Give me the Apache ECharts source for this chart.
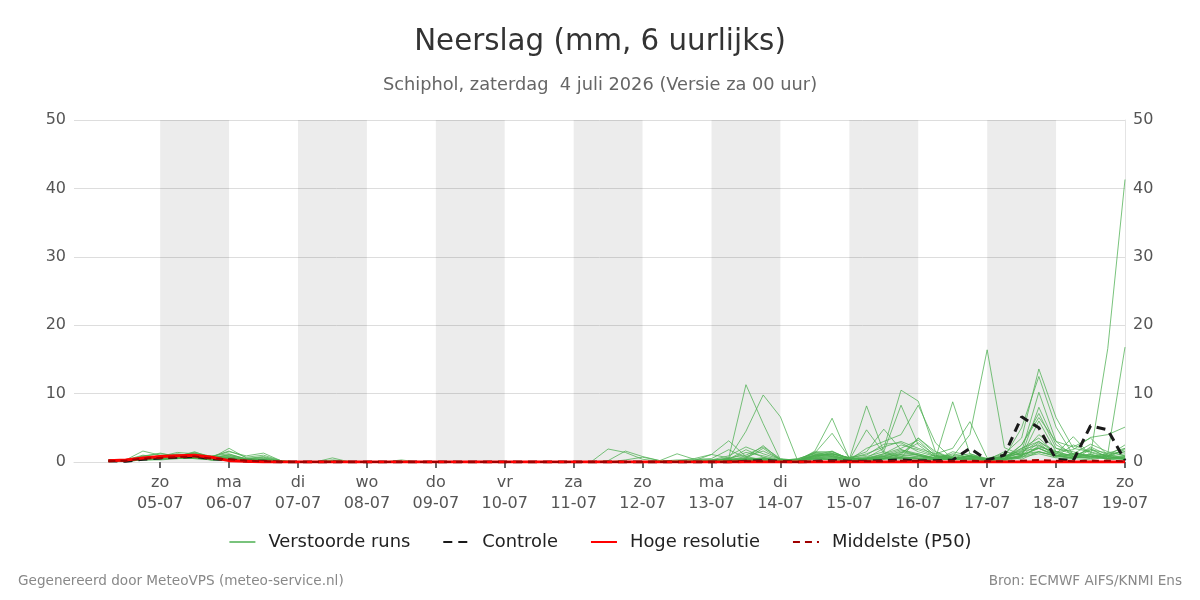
<!DOCTYPE html>
<html><head><meta charset="utf-8">
<script src="https://cdn.jsdelivr.net/npm/echarts@6/dist/echarts.min.js"></script>
<style>html,body{margin:0;padding:0;background:#fff}#c{width:1200px;height:600px}</style>
</head><body><div id="c"></div>
<script>
// Day tick labels (day boundaries, 00 uur)
const dayNames = ['zo','ma','di','wo','do','vr','za','zo','ma','di','wo','do','vr','za','zo'];
const dayDates = ['05-07','06-07','07-07','08-07','09-07','10-07','11-07','12-07','13-07','14-07','15-07','16-07','17-07','18-07','19-07'];
// shaded days (index into dayDates; shading runs to next day)
const shadedDays = [0,2,4,6,8,10,12];
const yTicks = [0,10,20,30,40,50];

// 6-hourly precipitation (mm), first value = 04-07 06 uur, last = 19-07 00 uur
const ens01 = [0.2,0.3,1.6, 1.0,0.6,0.9,0.5, 0.3,0.2,0.1,0, 0,0,0.2,0, 0,0,0,0, 0,0,0,0, 0,0,0,0, 0,0,0,0, 0,0,0,0.1, 0.2,0.6,11.3,5.6, 0.3,0.2,0.8,1.2, 0.6,0.4,1.2,2.5, 1.8,0.9,0.5,0.4, 0.3,0.8,0.4,1.5, 0.9,0.6,1.1,0.5, 0.8];
const ens02 = [0.1,0.2,0.8, 1.3,0.8,1.5,0.6, 2.0,0.6,0.3,0.1, 0,0,0.6,0, 0,0,0,0, 0,0,0,0, 0,0,0,0, 0,0,0,0, 0,0,0,0.2, 0.3,0.5,4.5,9.8, 6.6,0.2,0.6,1.5, 0.5,0.3,0.8,1.1, 0.8,0.5,1.2,0.7, 0.4,0.3,0.9,2.2, 1.5,0.8,0.6,1.0, 1.5];
const ens03 = [0.3,0.2,0.5, 0.8,1.4,1.2,0.8, 1.5,0.9,1.3,0.2, 0,0,0.3,0.1, 0,0,0.3,0, 0,0,0,0, 0,0,0,0, 0,0,1.9,1.4, 0.4,0.1,0.3,0.2, 1.1,3.1,0.8,0.3, 0.2,0.1,1.5,1.5, 0.5,1.2,2.2,3.0, 2.0,1.2,0.6,0.8, 0.3,0.5,2.0,3.5, 1.2,0.8,2.0,0.6, 0.4];
const ens04 = [0.2,0.1,0.6, 0.9,1.0,1.1,0.9, 1.2,0.4,0.6,0.1, 0,0,0.2,0, 0,0,0.1,0, 0,0,0,0, 0,0,0,0, 0,0,0.2,1.6, 0.8,0.2,0.1,0.4, 0.3,0.9,2.2,1.2, 0.4,0.2,1.6,6.4, 0.5,0.6,1.0,1.8, 1.0,0.3,0.8,1.2, 0.5,0.9,1.2,4.0, 2.0,1.1,0.7,0.9, 2.5];
const ens05 = [0.1,0.3,1.0, 0.7,1.2,0.8,0.4, 0.6,0.3,0.2,0, 0,0,0,0, 0,0,0,0, 0,0,0,0, 0,0,0,0, 0,0,0,0.3, 0.7,0.2,1.2,0.4, 0.5,1.8,0.6,2.4, 0.3,0.1,1.3,4.2, 0.6,0.2,0.5,1.3, 2.8,1.0,0.4,0.6, 0.2,0.6,1.8,2.5, 1.0,0.5,0.3,0.8, 1.2];
const ens06 = [0.2,0.2,0.4, 0.6,0.9,1.3,0.7, 0.9,0.5,0.8,0.2, 0,0,0,0, 0,0,0,0, 0,0,0,0, 0,0,0,0, 0,0,0,0, 0,0,0.2,0.5, 1.1,0.6,1.0,2.2, 0.5,0.2,1.0,1.6, 0.4,8.2,1.5,0.8, 0.6,0.3,1.5,0.9, 0.3,0.4,1.0,8.0, 2.5,1.2,0.9,0.4, 0.6];
const ens07 = [0.1,0.2,0.5, 0.5,0.7,0.6,0.4, 0.5,0.2,0.2,0, 0,0,0,0, 0,0,0,0, 0,0,0,0, 0,0,0,0, 0,0,0,0, 0.1,0,0,0.1, 0.3,0.4,0.3,0.6, 0.2,0.5,1.2,1.0, 0.3,4.7,1.3,0.6, 3.5,1.5,0.3,0.5, 0.2,0.5,1.5,10.2, 3.0,0.8,0.6,0.5, 1.0];
const ens08 = [0,0.1,0.3, 0.4,0.6,0.8,0.3, 0.3,0.1,0,0, 0,0,0,0, 0,0,0,0, 0,0,0,0, 0,0,0,0, 0,0,0,0, 0,0,0,0, 0,0.2,0.4,0.3, 0.1,0.3,0.9,1.2, 0.6,1.5,4.8,1.8, 1.2,0.6,0.4,1.0, 0.5,1.2,3.5,13.6, 6.5,2.0,1.5,0.8, 0.5];
const ens09 = [0.2,0.1,0.4, 0.7,0.5,0.9,0.6, 0.7,0.4,0.3,0.1, 0,0,0,0, 0,0,0,0, 0,0,0,0, 0,0,0,0, 0,0,0,0, 0,0,0,0, 0.2,0.5,0.3,0.4, 0.1,0.2,1.0,0.8, 0.2,0.6,2.0,10.5, 8.9,1.5,0.6,0.8, 0.4,0.9,1.6,2.0, 1.0,0.6,1.2,0.3, 0.5];
const ens10 = [0.2,0.1,0.5, 0.6,0.8,0.7,0.5, 0.6,0.3,0.4,0.1, 0,0,0,0, 0,0,0,0, 0,0,0,0, 0,0,0,0, 0,0,0,0, 0,0,0,0.1, 0.1,0.4,1.8,0.7, 0.2,0.4,1.4,1.3, 0.5,0.8,1.5,8.3, 2.5,0.7,0.5,0.3, 0.2,0.6,2.5,7.1, 2.0,1.5,0.8,0.6, 2.0];
const ens11 = [0.1,0.1,0.4, 0.5,0.9,1.0,0.5, 0.7,0.3,0.5,0.1, 0,0,0,0, 0,0,0,0, 0,0,0,0, 0,0,0,0, 0,0,0,0, 0,0,0,0, 0.2,0.3,0.5,2.0, 0.3,0.2,0.8,1.0, 0.3,2.0,3.0,4.0, 8.3,2.8,0.4,0.9, 0.4,0.3,0.8,6.0, 1.5,0.9,1.8,0.8, 0.3];
const ens12 = [0.2,0.2,0.6, 0.7,0.8,0.9,0.6, 0.8,0.3,0.4,0.1, 0,0,0,0, 0,0,0,0, 0,0,0,0, 0,0,0,0, 0,0,0,0, 0,0,0,0, 0,0.3,0.6,0.4, 0.2,0.1,0.9,0.7, 0.4,0.5,0.8,1.6, 1.0,0.5,8.8,1.2, 0.3,0.8,1.2,1.5, 0.8,2.5,1.4,0.6, 0.8];
const ens13 = [0.1,0.2,0.5, 0.6,0.6,0.8,0.5, 0.4,0.2,0.3,0, 0,0,0,0, 0,0,0,0, 0,0,0,0, 0,0,0,0, 0,0,0,0, 0,0,0,0, 0.1,0.2,0.4,0.6, 0.2,0.2,1.1,0.9, 0.3,0.4,0.6,1.1, 3.5,1.2,2.0,5.9, 0.6,0.5,1.4,3.0, 1.2,3.7,1.0,0.5, 0.7];
const ens14 = [0.2,0.3,0.7, 0.8,1.1,1.0,0.7, 1.0,0.4,0.3,0.1, 0,0,0,0, 0,0,0,0, 0,0,0,0, 0,0,0,0, 0,0,0,0, 0,0,0,0, 0.1,0.3,0.2,0.5, 0.2,0.3,0.7,0.6, 0.2,0.5,0.9,1.4, 1.0,0.6,0.8,4.0, 16.4,2.1,1.0,2.0, 0.8,0.5,2.2,1.0, 0.4];
const ens15 = [0.1,0.2,0.4, 0.5,0.7,0.6,0.4, 0.5,0.2,0.3,0, 0,0,0,0, 0,0,0,0, 0,0,0,0, 0,0,0,0, 0,0,0,0, 0,0,0,0, 0,0.1,0.3,0.2, 0.1,0.2,0.6,0.4, 0.2,0.3,0.5,0.9, 1.2,0.5,0.3,0.4, 0.5,0.7,5.0,12.5, 5.1,1.0,0.8,1.2, 1.5];
const ens16 = [0.2,0.1,0.3, 0.4,0.5,0.6,0.3, 0.4,0.1,0.2,0, 0,0,0,0, 0,0,0,0, 0,0,0,0, 0,0,0,0, 0,0,0,0, 0,0,0,0, 0.1,0.2,0.2,0.3, 0.1,0.1,0.5,0.6, 0.3,0.2,0.4,0.7, 0.6,0.4,0.5,0.8, 0.4,0.3,2.5,6.5, 3.0,2.2,3.5,1.0, 0.6];
const ens17 = [0.1,0.2,0.4, 0.4,0.6,0.5,0.3, 0.3,0.1,0.1,0, 0,0,0,0, 0,0,0,0, 0,0,0,0, 0,0,0,0, 0,0,0,0, 0,0,0,0, 0,0.1,0.2,0.1, 0.1,0.2,0.4,0.5, 0.2,0.3,0.6,0.5, 0.4,0.3,0.6,0.5, 0.3,0.4,0.8,1.5, 0.9,1.2,1.0,16.6, 41.3];
const ens18 = [0.1,0.1,0.3, 0.3,0.5,0.6,0.3, 0.3,0.1,0.2,0, 0,0,0,0, 0,0,0,0, 0,0,0,0, 0,0,0,0, 0,0,0,0, 0,0,0,0, 0.1,0.1,0.3,0.2, 0.1,0.2,0.3,0.4, 0.1,0.3,0.4,0.6, 0.5,0.3,0.4,0.6, 0.2,0.5,1.0,2.0, 1.0,0.6,0.8,1.2, 16.8];
const ens19 = [0.2,0.2,0.5, 0.6,0.8,0.7,0.4, 0.5,0.2,0.3,0, 0,0,0,0, 0,0,0,0, 0,0,0,0, 0,0,0,0, 0,0,0,0, 0,0,0,0, 0.1,0.2,0.3,0.4, 0.2,0.1,0.5,0.3, 0.2,0.4,0.8,0.6, 0.5,1.0,0.6,0.9, 0.4,0.8,2.0,3.0, 1.5,1.8,3.6,4.0, 5.1];
const ens20 = [0.1,0.1,0.4, 0.5,0.6,0.5,0.4, 0.3,0.2,0.1,0, 0,0,0,0, 0,0,0,0, 0,0,0,0, 0,0,0,0, 0,0,0,0, 0,0,0,0, 0.1,0.3,0.5,0.4, 0.1,0.3,0.6,0.8, 0.5,0.4,0.6,0.4, 0.9,0.5,0.3,1.0, 0.2,0.4,0.7,1.2, 0.6,0.4,1.8,1.3, 2.0];
const ens21 = [0.3,0.2,0.9, 1.2,0.9,1.4,0.8, 1.6,0.7,1.0,0.2, 0,0,0,0, 0,0,0,0, 0,0,0,0, 0,0,0,0, 0,0,0,0, 0,0,0,0, 0.2,0.4,1.4,0.9, 0.3,0.4,1.3,1.1, 0.7,1.0,2.6,2.8, 1.5,0.8,1.0,0.4, 0.3,1.5,1.0,2.8, 0.7,1.2,2.6,1.5, 0.9];
const ens22 = [0.1,0.2,0.6, 0.9,0.7,1.2,0.5, 1.1,0.5,0.7,0.1, 0,0,0,0, 0,0,0,0, 0,0,0,0, 0,0,0,0, 0,0,0,0, 0,0,0,0, 0.1,0.3,0.8,1.6, 0.4,0.2,1.0,1.2, 0.4,0.6,1.2,2.0, 3.2,0.8,0.6,0.7, 0.3,0.2,0.6,2.4, 1.3,0.7,0.5,0.9, 1.8];
const ensembleRuns = [ens01,ens02,ens03,ens04,ens05,ens06,ens07,ens08,ens09,ens10,ens11,ens12,ens13,ens14,ens15,ens16,ens17,ens18,ens19,ens20,ens21,ens22];

const controle = [0.2,0.1,0.4, 0.6,0.7,0.8,0.5, 0.3,0.1,0.1,0, 0,0,0,0, 0,0,0,0, 0,0,0,0, 0,0,0,0, 0,0,0,0, 0,0,0,0, 0,0,0.1,0.2, 0.1,0,0.1,0.2, 0.1,0.1,0.2,0.3, 0.2,0.2,0.3,2.0, 0.3,1.0,6.6,5.0, 0.4,0.2,5.3,4.7, 0.2];
const hogeResolutie = [0.2,0.3,0.6, 0.8,0.9,1.0,0.7, 0.2,0.1,0,0, 0,0,0,0, 0,0,0,0, 0,0,0,0, 0,0,0,0, 0,0,0,0, 0,0,0,0, 0,0,0,0, 0,0,0,0, 0,0,0,0, 0,0,0,0, 0,0,0,0, 0,0,0,0, 0];
const middelste = [0.1,0.2,0.5, 0.6,0.7,0.8,0.5, 0.4,0.2,0.1,0, 0,0,0,0, 0,0,0,0, 0,0,0,0, 0,0,0,0, 0,0,0,0, 0,0,0,0, 0,0,0.1,0.1, 0,0,0.1,0.1, 0.1,0.1,0.1,0.2, 0.2,0.1,0.1,0.2, 0.1,0.1,0.2,0.3, 0.2,0.1,0.2,0.2, 0.1];

// x in hours since 04-07 00 uur; values are 6-hourly, first at +6h
const STEP = 6;
const toXY = arr => arr.map((v, k) => [STEP * (k + 1), v]);
const dayHours = dayDates.map((d, i) => 24 * (i + 1));

const FONT = 'DejaVu Sans';
const chart = echarts.init(document.getElementById('c'), null, {renderer: 'canvas'});

const series = [];
series.push({
  type: 'line', name: '_shade', data: [], silent: true, symbol: 'none',
  markArea: {
    silent: true,
    itemStyle: {color: 'rgba(0,0,0,0.075)'},
    data: shadedDays.map(i => [{xAxis: dayHours[i]}, {xAxis: dayHours[i + 1]}])
  }
});
ensembleRuns.forEach(run => series.push({
  type: 'line', name: 'Verstoorde runs', data: toXY(run), symbol: 'none',
  lineStyle: {color: '#4caf50', width: 1, opacity: 0.75}, itemStyle: {color: '#4caf50'}, z: 2
}));
series.push({
  type: 'line', name: 'Controle', data: toXY(controle), symbol: 'none',
  lineStyle: {color: '#1a1a1a', width: 3, type: [9, 6]}, itemStyle: {color: '#1a1a1a'}, z: 3
});
series.push({
  type: 'line', name: 'Hoge resolutie', data: toXY(hogeResolutie), symbol: 'none',
  lineStyle: {color: '#ff0000', width: 3}, itemStyle: {color: '#ff0000'}, z: 4
});
series.push({
  type: 'line', name: 'Middelste (P50)', data: toXY(middelste), symbol: 'none',
  lineStyle: {color: '#a00000', width: 2, type: [7, 5]}, itemStyle: {color: '#a00000'}, z: 5
});

chart.setOption({
  animation: false,
  backgroundColor: '#ffffff',
  textStyle: {fontFamily: FONT},
  title: [
    {text: 'Neerslag (mm, 6 uurlijks)', left: 'center', top: 23,
     textStyle: {fontFamily: FONT, fontSize: 29.3, fontWeight: 'normal', color: '#333333'}},
    {text: 'Schiphol, zaterdag  4 juli 2026 (Versie za 00 uur)', left: 'center', top: 71,
     textStyle: {fontFamily: FONT, fontSize: 17.8, fontWeight: 'normal', color: '#666666'}}
  ],
  legend: {
    data: ['Verstoorde runs', 'Controle', 'Hoge resolutie', 'Middelste (P50)'],
    top: 528, left: 'center', itemWidth: 26, itemHeight: 14, itemGap: 32,
    itemStyle: {opacity: 0},
    textStyle: {fontFamily: FONT, fontSize: 17.9, color: '#222222', padding: [0, 0, 0, 8]}
  },
  grid: {left: 74, right: 75, top: 120, bottom: 138, containLabel: false},
  xAxis: {
    type: 'value', min: -6, max: 360,
    axisLine: {show: true, lineStyle: {color: '#dddddd'}},
    axisTick: {show: true, customValues: dayHours, length: 6, lineStyle: {color: '#666666', width: 2}},
    axisLabel: {
      customValues: dayHours, showMinLabel: true, showMaxLabel: true,
      fontFamily: FONT, fontSize: 16, color: '#555555', lineHeight: 21, margin: 10,
      formatter: v => { const i = Math.round(v / 24) - 1; return dayNames[i] + '\n' + dayDates[i]; }
    },
    splitLine: {show: false}
  },
  yAxis: [
    {type: 'value', min: yTicks[0], max: yTicks[yTicks.length - 1], interval: 10, position: 'left',
     axisLine: {show: false}, axisTick: {show: false},
     axisLabel: {fontFamily: FONT, fontSize: 16, color: '#555555', margin: 8},
     splitLine: {show: true, lineStyle: {color: '#dddddd', width: 1}}},
    {type: 'value', min: yTicks[0], max: yTicks[yTicks.length - 1], interval: 10, position: 'right',
     axisLine: {show: true, lineStyle: {color: '#e4e4e4'}}, axisTick: {show: false},
     axisLabel: {fontFamily: FONT, fontSize: 16, color: '#555555', margin: 8},
     splitLine: {show: false}}
  ],
  graphic: [
    {type: 'text', left: 18, top: 574, style: {text: 'Gegenereerd door MeteoVPS (meteo-service.nl)', fontFamily: FONT, fontSize: 13.6, fill: '#888888'}},
    {type: 'text', right: 18, top: 574, style: {text: 'Bron: ECMWF AIFS/KNMI Ens', fontFamily: FONT, fontSize: 13.6, fill: '#888888'}}
  ],
  series: series
});
</script>
</body></html>
